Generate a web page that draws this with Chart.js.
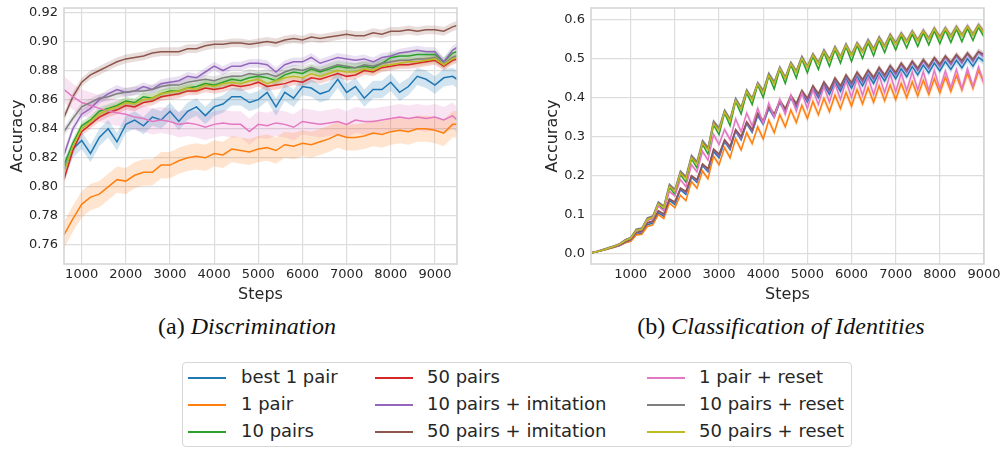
<!DOCTYPE html>
<html>
<head>
<meta charset="utf-8">
<script src="https://cdn.jsdelivr.net/npm/chart.js@4.4.1/dist/chart.umd.min.js"></script>
<style>
  body { margin: 0; background: #fff; width: 1003px; height: 449px; position: relative; overflow: hidden; font-family: 'DejaVu Sans', sans-serif; }
  #leftChart { position: absolute; left: 0; top: 0; }
  #rightChart { position: absolute; left: 530px; top: 0; }
  .caption { position: absolute; top: 313px; font-family: 'Liberation Serif', 'Times New Roman', serif; font-size: 24px; color: #111; white-space: nowrap; transform: translateX(-50%); }
  .caption i { font-style: italic; }
  #legendBox { position: absolute; left: 182px; top: 362px; width: 670px; height: 85px; border: 1px solid #d6d6d6; border-radius: 4px; box-sizing: border-box; }
  .lg-line { position: absolute; height: 2px; width: 38px; }
  .lg-text { position: absolute; font-size: 18px; color: #262626; white-space: nowrap; line-height: 20px; }
</style>
</head>
<body>
<canvas id="leftChart" width="480" height="310"></canvas>
<canvas id="rightChart" width="473" height="310"></canvas>
<div class="caption" style="left:247px">(a) <i>Discrimination</i></div>
<div class="caption" style="left:781px">(b) <i>Classification of Identities</i></div>
<div id="legendBox"></div>
<div id="legendItems"></div>
<script>
const SERIES_NAMES = ['best 1 pair', '1 pair', '10 pairs', '50 pairs', '10 pairs + imitation',
  '50 pairs + imitation', '1 pair + reset', '10 pairs + reset', '50 pairs + reset'];
const SERIES_COLORS = ['#1f77b4', '#ff7f0e', '#2ca02c', '#d62728', '#9467bd',
  '#8c564b', '#e377c2', '#7f7f7f', '#bcbd22'];

// (a) Discrimination
const leftSteps = [600, 800, 1000, 1200, 1400, 1600, 1800, 2000, 2200, 2400,
  2600, 2800, 3000, 3200, 3400, 3600, 3800, 4000, 4200, 4400,
  4600, 4800, 5000, 5200, 5400, 5600, 5800, 6000, 6200, 6400,
  6600, 6800, 7000, 7200, 7400, 7600, 7800, 8000, 8200, 8400,
  8600, 8800, 9000, 9200, 9400, 9500];
const leftBest1 = [.812, .826, .832, .823, .834, .840, .831, .843, .846, .842,
  .848, .846, .852, .845, .852, .855, .849, .855, .857, .862,
  .862, .858, .860, .865, .855, .865, .861, .869, .868, .864,
  .866, .874, .865, .869, .861, .867, .867, .872, .865, .869,
  .876, .874, .870, .875, .876, .874];
const left1Pair = [.767, .778, .788, .793, .795, .800, .805, .804, .808, .810,
  .810, .815, .815, .818, .820, .821, .820, .823, .822, .826,
  .825, .824, .826, .827, .825, .829, .828, .830, .829, .831,
  .833, .836, .834, .834, .835, .837, .836, .838, .839, .838,
  .840, .840, .839, .837, .843, .843];
const left10Pairs = [.815, .830, .842, .846, .852, .854, .856, .859, .858, .862,
  .861, .864, .866, .866, .868, .869, .871, .870, .872, .874,
  .873, .875, .876, .875, .873, .877, .879, .878, .881, .879,
  .881, .883, .882, .882, .883, .882, .885, .889, .890, .890,
  .891, .891, .891, .886, .892, .893];
const left50Pairs = [.805, .825, .838, .843, .848, .851, .853, .856, .855, .858,
  .859, .862, .863, .864, .866, .866, .868, .867, .868, .870,
  .869, .870, .872, .869, .870, .871, .873, .872, .875, .874,
  .876, .878, .876, .877, .880, .879, .882, .883, .884, .884,
  .885, .886, .887, .883, .887, .888];
const left10Imit = [.822, .840, .850, .854, .860, .864, .867, .865, .866, .869,
  .867, .871, .872, .873, .876, .875, .879, .883, .880, .883,
  .883, .885, .885, .884, .879, .884, .886, .886, .889, .885,
  .887, .889, .888, .887, .888, .886, .889, .890, .892, .893,
  .894, .893, .893, .886, .894, .896];
const left50Imit = [.848, .862, .872, .877, .880, .883, .886, .888, .889, .890,
  .892, .893, .893, .893, .895, .895, .897, .898, .898, .899,
  .899, .898, .899, .900, .899, .901, .902, .901, .903, .902,
  .903, .904, .905, .904, .904, .906, .905, .907, .907, .908,
  .907, .908, .908, .907, .910, .911];
const left1Reset = [.867, .862, .858, .856, .854, .852, .851, .850, .848, .847,
  .845, .846, .845, .843, .844, .843, .841, .843, .844, .843,
  .843, .838, .843, .842, .844, .843, .841, .845, .844, .843,
  .844, .845, .843, .846, .845, .845, .846, .847, .848, .847,
  .848, .847, .848, .846, .849, .846];
const left10Reset = [.838, .847, .855, .858, .861, .862, .864, .865, .866, .866,
  .867, .869, .870, .870, .872, .873, .874, .873, .875, .876,
  .876, .878, .877, .878, .876, .879, .881, .880, .882, .880,
  .882, .884, .883, .882, .884, .883, .885, .886, .887, .887,
  .888, .888, .889, .884, .889, .890];
const left50Reset = [.810, .828, .840, .845, .850, .853, .855, .858, .857, .860,
  .861, .864, .865, .866, .868, .867, .870, .869, .871, .872,
  .871, .873, .874, .871, .873, .875, .876, .875, .878, .876,
  .878, .880, .879, .879, .881, .880, .883, .884, .885, .886,
  .886, .887, .888, .884, .888, .889];
// half width of the shaded band, per series
const leftSpread = [.006, .009, .003, .003, .003, .003, .009, .003, .003];
const leftYTicks = [0.76, 0.78, 0.80, 0.82, 0.84, 0.86, 0.88, 0.90, 0.92];

// (b) Classification of Identities
const rightSteps = [125, 250, 375, 500, 625, 750, 875, 1000, 1125, 1250,
  1375, 1500, 1625, 1750, 1875, 2000, 2125, 2250, 2375, 2500,
  2625, 2750, 2875, 3000, 3125, 3250, 3375, 3500, 3625, 3750,
  3875, 4000, 4125, 4250, 4375, 4500, 4625, 4750, 4875, 5000,
  5125, 5250, 5375, 5500, 5625, 5750, 5875, 6000, 6125, 6250,
  6375, 6500, 6625, 6750, 6875, 7000, 7125, 7250, 7375, 7500,
  7625, 7750, 7875, 8000, 8125, 8250, 8375, 8500, 8625, 8750,
  8875, 9000];
const rightBest1 = [.003, .006, .009, .013, .017, .021, .028, .033, .050, .052,
  .075, .078, .105, .096, .137, .126, .164, .152, .196, .183,
  .226, .210, .262, .246, .287, .267, .314, .292, .334, .311,
  .354, .332, .372, .350, .388, .364, .400, .377, .412, .389,
  .424, .400, .432, .408, .440, .416, .448, .424, .453, .430,
  .458, .436, .464, .442, .470, .448, .474, .453, .479, .458,
  .483, .463, .488, .468, .492, .472, .495, .476, .499, .480,
  .503, .492];
const right1Pair = [.003, .006, .009, .013, .017, .021, .028, .032, .048, .050,
  .070, .074, .100, .090, .130, .118, .150, .136, .185, .168,
  .212, .192, .250, .228, .272, .246, .295, .266, .310, .282,
  .325, .294, .342, .310, .356, .325, .368, .336, .380, .346,
  .390, .356, .398, .364, .406, .372, .413, .378, .420, .384,
  .425, .388, .430, .392, .432, .395, .436, .400, .440, .404,
  .444, .408, .448, .412, .452, .416, .456, .420, .462, .424,
  .468, .440];
const right10Pairs = [.003, .006, .010, .015, .019, .024, .034, .039, .060, .061,
  .087, .090, .127, .113, .170, .152, .203, .183, .243, .220,
  .280, .255, .330, .305, .360, .328, .390, .358, .412, .382,
  .432, .400, .455, .422, .472, .436, .484, .450, .498, .463,
  .505, .472, .515, .480, .522, .488, .530, .492, .533, .500,
  .540, .507, .547, .515, .553, .522, .557, .527, .562, .531,
  .566, .535, .570, .538, .572, .541, .575, .543, .577, .546,
  .580, .555];
const right50Pairs = [.003, .007, .011, .015, .020, .025, .035, .041, .061, .064,
  .089, .095, .130, .120, .173, .161, .207, .194, .247, .232,
  .284, .268, .336, .318, .364, .342, .395, .372, .417, .396,
  .436, .414, .458, .437, .476, .449, .488, .466, .503, .478,
  .510, .488, .520, .496, .528, .503, .535, .508, .538, .517,
  .545, .522, .552, .530, .560, .537, .563, .543, .568, .546,
  .571, .550, .576, .553, .577, .556, .580, .559, .582, .561,
  .585, .566];
const right10Imit = [.003, .006, .010, .014, .018, .022, .030, .036, .054, .056,
  .079, .082, .110, .099, .141, .130, .168, .156, .199, .186,
  .229, .213, .266, .250, .290, .270, .316, .294, .336, .313,
  .357, .334, .374, .352, .390, .366, .402, .380, .415, .392,
  .428, .404, .438, .414, .448, .424, .456, .432, .462, .440,
  .468, .446, .474, .452, .480, .458, .485, .464, .490, .469,
  .494, .474, .499, .479, .503, .484, .507, .488, .511, .492,
  .516, .504];
const right50Imit = [.003, .006, .010, .014, .018, .023, .031, .037, .055, .058,
  .080, .084, .110, .102, .140, .133, .168, .160, .200, .190,
  .230, .218, .268, .255, .292, .275, .318, .300, .338, .318,
  .360, .340, .377, .358, .392, .372, .405, .385, .418, .398,
  .430, .410, .440, .420, .450, .430, .458, .438, .465, .446,
  .470, .452, .477, .458, .482, .464, .488, .470, .493, .475,
  .497, .480, .502, .485, .506, .490, .510, .494, .514, .498,
  .518, .510];
const right1Reset = [.003, .007, .011, .015, .019, .025, .034, .040, .060, .062,
  .085, .090, .122, .110, .160, .148, .190, .172, .228, .210,
  .262, .240, .305, .280, .318, .292, .345, .312, .360, .328,
  .372, .335, .385, .350, .395, .357, .405, .365, .412, .372,
  .420, .382, .428, .388, .435, .395, .442, .400, .448, .405,
  .452, .408, .456, .412, .460, .415, .462, .418, .465, .420,
  .466, .418, .470, .422, .468, .425, .472, .422, .474, .428,
  .478, .435];
const right10Reset = [.003, .007, .011, .016, .020, .026, .036, .042, .063, .066,
  .092, .097, .133, .122, .178, .165, .212, .198, .252, .236,
  .290, .272, .340, .322, .368, .345, .398, .375, .420, .398,
  .438, .418, .462, .440, .478, .452, .490, .468, .505, .480,
  .512, .490, .522, .498, .530, .505, .537, .510, .540, .520,
  .548, .525, .555, .532, .562, .540, .565, .545, .570, .548,
  .572, .552, .578, .555, .578, .558, .582, .560, .583, .562,
  .586, .568];
const right50Reset = [.003, .006, .010, .015, .019, .025, .034, .040, .060, .063,
  .088, .093, .128, .118, .172, .160, .206, .192, .245, .230,
  .283, .266, .333, .316, .362, .340, .392, .370, .415, .394,
  .434, .412, .456, .435, .474, .448, .486, .464, .500, .477,
  .508, .486, .518, .494, .526, .502, .533, .507, .537, .516,
  .544, .521, .551, .529, .558, .536, .562, .542, .567, .545,
  .570, .549, .575, .552, .576, .555, .579, .558, .581, .560,
  .584, .565];
// relative half width of the shaded band, per series
const rightSpread = [.02, .03, .012, .012, .018, .015, .03, .015, .012];
const rightYTicks = [0.0, 0.1, 0.2, 0.3, 0.4, 0.5, 0.6];

const XTICKS = [1000, 2000, 3000, 4000, 5000, 6000, 7000, 8000, 9000];

function hexToRgba(hex, a) {
  const n = parseInt(hex.slice(1), 16);
  return 'rgba(' + (n >> 16) + ',' + ((n >> 8) & 255) + ',' + (n & 255) + ',' + a + ')';
}

function buildDatasets(steps, series, bandLow, bandHigh) {
  const sets = [];
  series.forEach((vals, i) => {
    const color = SERIES_COLORS[i];
    sets.push({
      data: steps.map((s, k) => ({ x: s, y: bandHigh(vals[k], i) })),
      borderWidth: 0, pointRadius: 0, fill: false, order: 200
    });
    sets.push({
      data: steps.map((s, k) => ({ x: s, y: bandLow(vals[k], i) })),
      borderWidth: 0, pointRadius: 0, fill: '-1',
      backgroundColor: hexToRgba(color, 0.2), order: 200
    });
  });
  series.forEach((vals, i) => {
    sets.push({
      label: SERIES_NAMES[i],
      data: steps.map((s, k) => ({ x: s, y: vals[k] })),
      borderColor: SERIES_COLORS[i], borderWidth: 1.5,
      pointRadius: 0, fill: false, tension: 0, order: 50 - i
    });
  });
  return sets;
}

const framePlugin = {
  id: 'frame',
  afterDatasetsDraw(chart) {
    const a = chart.chartArea, ctx = chart.ctx;
    ctx.save();
    ctx.strokeStyle = '#d2d2d2';
    ctx.lineWidth = 1.5;
    ctx.strokeRect(a.left, a.top, a.right - a.left, a.bottom - a.top);
    ctx.restore();
  }
};

function makeChart(id, cfg) {
  const tickFont = { family: 'DejaVu Sans', size: 13 };
  const titleFont = { family: 'DejaVu Sans', size: 16 };
  return new Chart(document.getElementById(id), {
    type: 'line',
    data: { datasets: cfg.datasets },
    options: {
      responsive: false,
      animation: false,
      devicePixelRatio: 1,
      layout: { padding: { top: 8, right: cfg.padRight, left: 0, bottom: 0 } },
      plugins: { legend: { display: false }, tooltip: { enabled: false } },
      scales: {
        x: {
          type: 'linear', min: cfg.xMin, max: cfg.xMax,
          afterBuildTicks: (s) => { s.ticks = XTICKS.map(v => ({ value: v })); },
          afterFit: (s) => {
            s.height = 46;
            s.paddingLeft = 0; s.paddingRight = 0;
          },
          grid: { color: '#dddddd', lineWidth: 1.2, drawTicks: false },
          border: { display: false },
          ticks: { font: tickFont, color: '#262626', padding: 3, maxRotation: 0,
            callback: (v) => String(v) },
          title: { display: true, text: 'Steps', font: titleFont, color: '#262626',
            padding: { top: 0, bottom: 6 } }
        },
        y: {
          min: cfg.yMin, max: cfg.yMax,
          afterBuildTicks: (s) => { s.ticks = cfg.yTicks.map(v => ({ value: v })); },
          afterFit: (s) => {
            s.width = cfg.yWidth;
            s.paddingTop = 0; s.paddingBottom = 0;
          },
          grid: { color: '#dddddd', lineWidth: 1.2, drawTicks: false },
          border: { display: false },
          ticks: { font: tickFont, color: '#262626', padding: 6,
            callback: (v) => v.toFixed(cfg.decimals) },
          title: { display: true, text: 'Accuracy', font: titleFont, color: '#262626',
            padding: { top: cfg.titlePad, bottom: 0 } }
        }
      }
    },
    plugins: [framePlugin]
  });
}

function buildLegend() {
  const holder = document.getElementById('legendItems');
  const lineX = [188, 375, 647];
  const textX = [241, 427, 699];
  const rowY = [378, 405, 432];
  SERIES_NAMES.forEach((name, i) => {
    const col = Math.floor(i / 3), row = i % 3;
    const line = document.createElement('div');
    line.className = 'lg-line';
    line.style.left = lineX[col] + 'px';
    line.style.top = (rowY[row] - 1) + 'px';
    line.style.background = SERIES_COLORS[i];
    const text = document.createElement('div');
    text.className = 'lg-text';
    text.style.left = textX[col] + 'px';
    text.style.top = (rowY[row] - 11) + 'px';
    text.textContent = name;
    holder.appendChild(line);
    holder.appendChild(text);
  });
}

function init() {
  const leftSeries = [leftBest1, left1Pair, left10Pairs, left50Pairs, left10Imit,
    left50Imit, left1Reset, left10Reset, left50Reset];
  const rightSeries = [rightBest1, right1Pair, right10Pairs, right50Pairs, right10Imit,
    right50Imit, right1Reset, right10Reset, right50Reset];

  makeChart('leftChart', {
    datasets: buildDatasets(leftSteps, leftSeries,
      (v, i) => v - leftSpread[i], (v, i) => v + leftSpread[i]),
    xMin: 600, xMax: 9500, yMin: 0.747, yMax: 0.923, yTicks: leftYTicks,
    decimals: 2, yWidth: 64, padRight: 23, titlePad: 8
  });
  makeChart('rightChart', {
    datasets: buildDatasets(rightSteps, rightSeries,
      (v, i) => v * (1 - rightSpread[i]), (v, i) => v * (1 + rightSpread[i])),
    xMin: 100, xMax: 9000, yMin: -0.026, yMax: 0.629, yTicks: rightYTicks,
    decimals: 1, yWidth: 61, padRight: 19, titlePad: 13
  });
  buildLegend();
}

document.addEventListener('DOMContentLoaded', init);
</script>
</body>
</html>
